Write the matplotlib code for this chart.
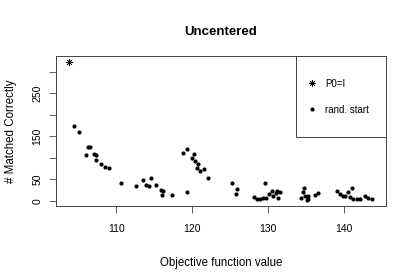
import numpy as np
import matplotlib
matplotlib.use('Agg')
import matplotlib.pyplot as plt
from matplotlib.lines import Line2D
from matplotlib.patches import Rectangle

plt.rcParams['font.family'] = ['Liberation Sans', 'DejaVu Sans']

# starting point P0 = I
p0_obj = [103.8]
p0_match = [323]

# random starts
rand_obj = [104.5, 105.1, 106.3, 106.6, 106.0, 107.1, 107.3, 107.4, 108.0, 108.6,
            109.1, 110.7, 112.6, 113.5, 113.9, 114.3, 114.6, 115.2, 115.9, 116.2,
            116.05, 117.3, 118.8, 119.3, 119.3, 120.2, 120.0, 120.4, 120.8, 120.6,
            121.0, 121.5, 122.1, 125.3, 125.9, 125.8,
            129.6, 128.2, 128.5, 128.9, 129.3, 129.7, 130.1, 130.6, 131.0, 131.2,
            131.3, 131.5, 130.5,
            134.7, 134.6, 134.3, 134.9, 135.2, 135.3, 135.1, 136.2, 136.5,
            139.0, 139.5, 139.8, 140.1, 140.5, 141.0, 140.8, 141.2, 141.7, 142.1,
            142.7, 143.2, 143.7]
rand_match = [174, 160, 125, 124, 107, 108, 106, 94, 86, 78,
              77, 40, 35, 47, 37, 34, 52, 37, 25, 22,
              13, 12.6, 111, 120, 20, 109, 100, 93, 86, 77,
              68, 74, 53, 40, 28, 16,
              41, 9, 5, 5, 6, 7, 15, 10, 18, 22,
              7, 21, 23,
              29, 20, 7, 12, 5, 12, 1, 14, 18,
              22, 15, 12, 10, 19, 30, 8, 3, 3, 5,
              12, 7, 3]

xticks = [110, 120, 130, 140]
yticks = [0, 50, 100, 150, 200, 250, 300]
ytick_labels = ['0', '50', '', '150', '', '250', '']

fig = plt.figure(figsize=(4.15, 2.77), dpi=100)
ax = fig.add_axes([0.135, 0.257, 0.795, 0.541])

ax.scatter(rand_obj, rand_match, s=9, c='black', marker='o', linewidths=0)
ax.scatter(p0_obj, p0_match, s=22, c='black', marker=(8, 2, 0), linewidths=0.5)

ax.set_xlim(102.1, 145.5)
ax.set_ylim(-12, 337)
ax.set_xticks(xticks)
ax.set_yticks(yticks)
ax.set_yticklabels(ytick_labels, rotation=90, va='center')
ax.tick_params(direction='out', length=5, width=0.6, labelsize=7.5, color='#444444')
ax.tick_params(axis='x', pad=8)
ax.tick_params(axis='y', pad=5)
for sp in ax.spines.values():
    sp.set_linewidth(0.7)
    sp.set_color('#444444')

ax.set_title('Uncentered', fontsize=9.5, fontweight='bold', pad=15)
ax.set_xlabel('Objective function value', fontsize=8.3, labelpad=17)
ax.set_ylabel('# Matched Correctly', fontsize=8.3, labelpad=11)

# legend box touching top right corner like R's legend("topright")
ax.add_patch(Rectangle((0.726, 0.457), 0.274, 0.543, transform=ax.transAxes,
                       fill=False, edgecolor='#444444', linewidth=0.7, zorder=5))
handles = [Line2D([], [], linestyle='none', marker=(8, 2, 0), color='black',
                  markersize=4.5, markeredgewidth=0.5),
           Line2D([], [], linestyle='none', marker='o', color='black',
                  markersize=3, markeredgewidth=0)]
ax.legend(handles, ['P0=I', 'rand. start'], loc='center left',
          bbox_to_anchor=(0.747, 0.727), frameon=False, fontsize=7,
          borderpad=0, handlelength=1.0, handletextpad=0.8, labelspacing=1.65)

plt.savefig('out.png', dpi=100)
